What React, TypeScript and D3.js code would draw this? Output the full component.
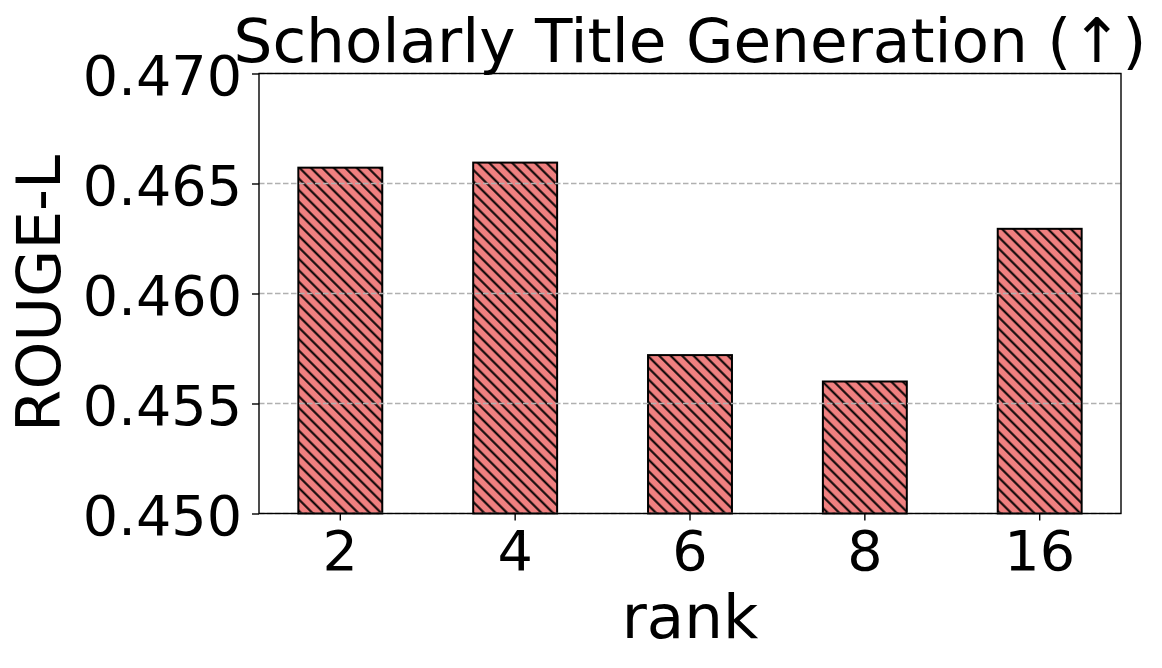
import React, { useEffect, useRef } from 'react';
import * as d3 from 'd3';

const ranks = ['2', '4', '6', '8', '16'];
const rougeL = [0.46572, 0.46595, 0.45720, 0.45600, 0.46294];
const yTicks = [0.450, 0.455, 0.460, 0.465, 0.470];

const title = 'Scholarly Title Generation (\u2191)';
const xTitle = 'rank';
const yTitle = 'ROUGE-L';

export default function App() {
  const ref = useRef<SVGSVGElement | null>(null);

  useEffect(() => {
    const width = 1162;
    const height = 668;
    const margin = { top: 73.5, right: 41, bottom: 154.5, left: 259 };
    const font = 'DejaVu Sans, sans-serif';

    const svg = d3.select(ref.current);
    svg.selectAll('*').remove();

    const x = d3
      .scaleBand()
      .domain(ranks)
      .range([margin.left, width - margin.right])
      .paddingInner(0.52)
      .paddingOuter(0.225);

    const y = d3
      .scaleLinear()
      .domain([0.45, 0.47])
      .range([height - margin.bottom, margin.top]);

    // hatch pattern "\\"
    const defs = svg.append('defs');
    const pat = defs
      .append('pattern')
      .attr('id', 'hatch')
      .attr('patternUnits', 'userSpaceOnUse')
      .attr('width', 8.1)
      .attr('height', 8.1)
      .attr('patternTransform', 'rotate(-45)');
    pat.append('rect').attr('width', 8.1).attr('height', 8.1).attr('fill', '#f08080');
    pat
      .append('line')
      .attr('x1', 4)
      .attr('x2', 4)
      .attr('y1', 0)
      .attr('y2', 8.1)
      .attr('stroke', '#000')
      .attr('stroke-width', 2);

    const data = ranks.map((r, i) => ({ rank: r, value: rougeL[i] }));

    svg
      .append('g')
      .selectAll('rect')
      .data(data)
      .join('rect')
      .attr('x', (d) => x(d.rank) as number)
      .attr('width', x.bandwidth())
      .attr('y', (d) => y(d.value))
      .attr('height', (d) => y(0.45) - y(d.value))
      .attr('fill', 'url(#hatch)')
      .attr('stroke', '#000')
      .attr('stroke-width', 2);

    // grid lines (drawn over bars)
    svg
      .append('g')
      .selectAll('line')
      .data(yTicks)
      .join('line')
      .attr('x1', margin.left)
      .attr('x2', width - margin.right)
      .attr('y1', (d) => y(d))
      .attr('y2', (d) => y(d))
      .attr('stroke', '#b0b0b0')
      .attr('stroke-width', 1.4)
      .attr('stroke-dasharray', '5.5,2.5');

    // frame
    svg
      .append('rect')
      .attr('x', margin.left)
      .attr('y', margin.top)
      .attr('width', width - margin.left - margin.right)
      .attr('height', height - margin.top - margin.bottom)
      .attr('fill', 'none')
      .attr('stroke', '#000')
      .attr('stroke-width', 1.4);

    const xAxis = svg
      .append('g')
      .attr('transform', `translate(0, ${height - margin.bottom})`)
      .call(d3.axisBottom(x).tickSize(7).tickPadding(10));
    xAxis.select('.domain').remove();
    xAxis.selectAll('line').attr('stroke-width', 1.4);
    xAxis
      .selectAll('text')
      .attr('font-family', font)
      .attr('font-size', 55.6)
      .attr('fill', '#000')
      .attr('dy', null)
      .attr('y', 56.5);

    const yAxis = svg
      .append('g')
      .attr('transform', `translate(${margin.left}, 0)`)
      .call(
        d3
          .axisLeft(y)
          .tickValues(yTicks)
          .tickFormat(d3.format('.3f'))
          .tickSize(7)
          .tickPadding(10)
      );
    yAxis.select('.domain').remove();
    yAxis.selectAll('line').attr('stroke-width', 1.4);
    yAxis
      .selectAll('text')
      .attr('font-family', font)
      .attr('font-size', 55.6)
      .attr('fill', '#000')
      .attr('dy', 20.5);

    svg
      .append('text')
      .attr('x', (margin.left + width - margin.right) / 2)
      .attr('y', 62)
      .attr('text-anchor', 'middle')
      .attr('font-family', font)
      .attr('font-size', 61.3)
      .text(title);

    svg
      .append('text')
      .attr('x', (margin.left + width - margin.right) / 2)
      .attr('y', 638)
      .attr('text-anchor', 'middle')
      .attr('font-family', font)
      .attr('font-size', 61)
      .text(xTitle);

    svg
      .append('text')
      .attr('transform', `translate(60, ${(margin.top + height - margin.bottom) / 2}) rotate(-90)`)
      .attr('text-anchor', 'middle')
      .attr('font-family', font)
      .attr('font-size', 61)
      .text(yTitle);
  }, []);

  return (
    <svg
      ref={ref}
      width={1162}
      height={668}
      style={{ position: 'absolute', left: 0, top: 0, background: '#fff' }}
    />
  );
}
